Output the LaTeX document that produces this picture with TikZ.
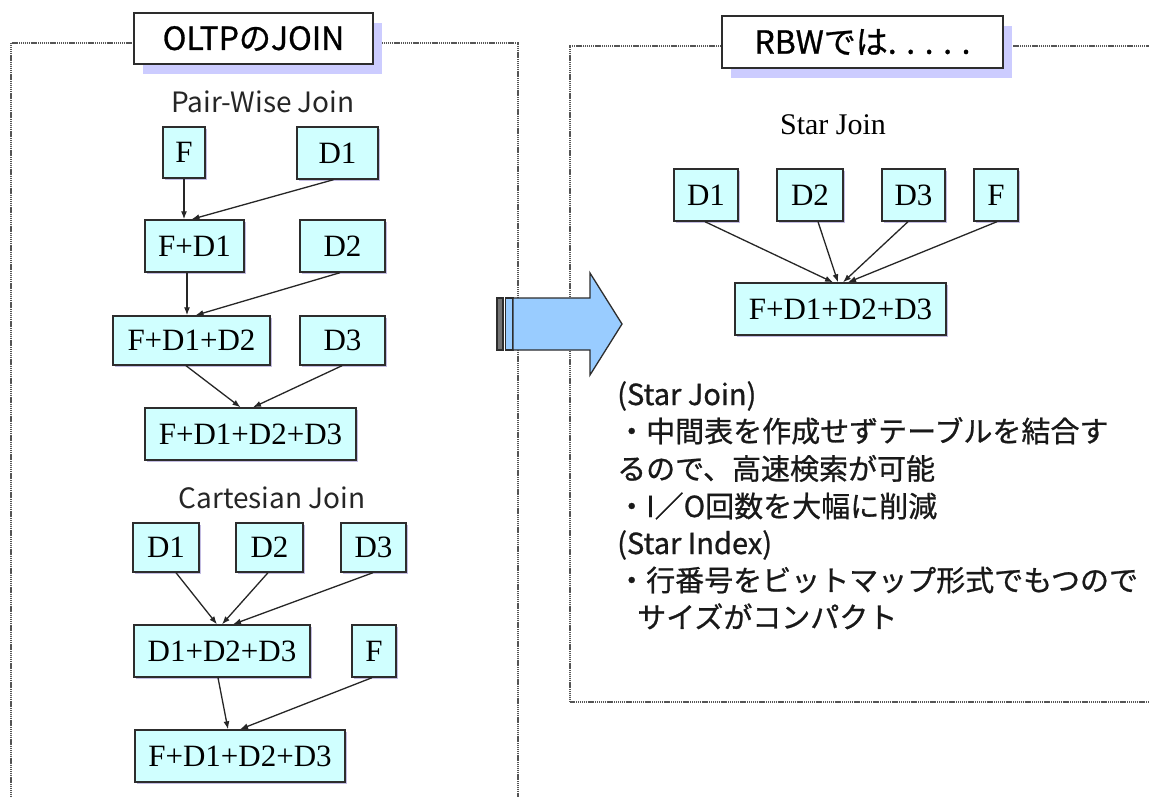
\documentclass[tikz,border=0pt]{standalone}
\usepackage{fontspec}
\setmainfont{Liberation Serif}
\newfontfamily\jp{Noto Sans CJK JP}
\newfontfamily\jpb[FakeBold=0.8]{Noto Sans CJK JP}
\usetikzlibrary{arrows.meta,shadows}
\definecolor{boxfill}{RGB}{208,255,255}
\definecolor{arrowfill}{RGB}{153,204,255}
\definecolor{tshadow}{RGB}{204,204,255}
\definecolor{frameline}{RGB}{85,85,85}
\definecolor{boxline}{RGB}{45,45,45}
\definecolor{bshadow}{RGB}{170,160,215}
\begin{document}
\begin{tikzpicture}[x=1pt,y=-1pt,
  bx/.style={draw=boxline, line width=1.4pt, fill=boxfill, inner sep=0pt,
    font=\fontsize{31}{31}\selectfont,
    drop shadow={shadow xshift=2pt, shadow yshift=-2pt, fill=bshadow, opacity=0.7}},
  ttl/.style={draw=boxline, line width=1.8pt, fill=white, inner sep=0pt,
    font=\jpb\fontsize{32}{32}\selectfont,
    drop shadow={shadow xshift=9pt, shadow yshift=-10pt, fill=tshadow, opacity=1}},
  lbl/.style={inner sep=0pt, font=\jp\fontsize{28}{28}\selectfont, text=black!85},
  serlbl/.style={inner sep=0pt, font=\fontsize{30}{30}\selectfont},
  txt/.style={inner sep=0pt, anchor=base west, font=\jpb\fontsize{29}{29}\selectfont, text=black!90},
  frame/.style={draw=frameline, line width=2pt, dash pattern=on 1.2pt off 0.7pt},
  conn/.style={draw=black!85, line width=1.3pt, -{Latex[length=8pt,width=6pt]}}]
\useasboundingbox (0,0) rectangle (1149,796);
\fill[white] (0,0) rectangle (1149,796);

% frames
\draw[frame] (11,810) -- (11,43) -- (518,43) -- (518,810);
\draw[frame] (1160,46) -- (570,46) -- (570,702) -- (1160,702);

% titles
\node[ttl, minimum width=239, minimum height=51] (t1) at (253.5,38.5) {OLTPのJOIN};
\node[ttl, minimum width=281, minimum height=52] (t2) at (862.5,42) {RBWでは. . . . .};

% pair-wise join
\node[lbl] (lpw) at (263,102) {Pair-Wise Join};
\node[bx, minimum width=42, minimum height=51] (pF) at (184,152.5) {F};
\node[bx, minimum width=81, minimum height=52] (pD1) at (337.5,153) {D1};
\node[bx, minimum width=99, minimum height=52] (pFD1) at (194.5,246) {F+D1};
\node[bx, minimum width=85, minimum height=52] (pD2) at (342.5,246) {D2};
\node[bx, minimum width=157, minimum height=49] (pFD12) at (191.5,340.5) {F+D1+D2};
\node[bx, minimum width=85, minimum height=49] (pD3) at (342.5,340.5) {D3};
\node[bx, minimum width=211, minimum height=52] (pAll) at (250.5,434) {F+D1+D2+D3};

\draw[conn] (pF.south) -- ([xshift=-10.5pt]pFD1.north);
\draw[conn] ([xshift=-4pt]pD1.south) -- ([xshift=-3pt]pFD1.north);
\draw[conn] ([xshift=-7.5pt]pFD1.south) -- ([xshift=-4.5pt]pFD12.north);
\draw[conn] ([xshift=-2.5pt]pD2.south) -- ([xshift=4pt]pFD12.north);
\draw[conn] ([xshift=-5.5pt]pFD12.south) -- ([xshift=-10pt]pAll.north);
\draw[conn] ([xshift=-0.5pt]pD3.south) -- ([xshift=2.5pt]pAll.north);

% cartesian join
\node[lbl] (lcj) at (272,498) {Cartesian Join};
\node[bx, minimum width=66, minimum height=49] (cD1) at (166,547.5) {D1};
\node[bx, minimum width=67, minimum height=49] (cD2) at (269.5,547.5) {D2};
\node[bx, minimum width=65, minimum height=49] (cD3) at (373.5,547.5) {D3};
\node[bx, minimum width=176, minimum height=52] (cD123) at (222,651) {D1+D2+D3};
\node[bx, minimum width=44, minimum height=52] (cF) at (374,651) {F};
\node[bx, minimum width=210, minimum height=52] (cAll) at (240,756) {F+D1+D2+D3};

\draw[conn] ([xshift=10pt]cD1.south) -- ([xshift=-5pt]cD123.north);
\draw[conn] ([xshift=-1.5pt]cD2.south) -- ([xshift=0pt]cD123.north);
\draw[conn] ([xshift=-0.5pt]cD3.south) -- ([xshift=11pt]cD123.north);
\draw[conn] ([xshift=-4pt]cD123.south) -- ([xshift=-12pt]cAll.north);
\draw[conn] ([xshift=-2pt]cF.south) -- ([xshift=0pt]cAll.north);

% big arrow
\filldraw[draw=boxline, line width=1.3pt, fill=black!55] (497,298) rectangle (503,350);
\filldraw[draw=boxline, line width=1.3pt, fill=arrowfill] (505.5,298) rectangle (513,350);
\filldraw[draw=boxline, line width=1.3pt, fill=arrowfill]
  (513,298) -- (590,298) -- (590,273) -- (622,324) -- (590,375) -- (590,350) -- (513,350) -- cycle;

% star join
\node[serlbl] (lsj) at (833,125) {Star Join};
\node[bx, minimum width=64, minimum height=52] (rD1) at (706,195) {D1};
\node[bx, minimum width=66, minimum height=52] (rD2) at (810,195) {D2};
\node[bx, minimum width=63, minimum height=52] (rD3) at (913.5,195) {D3};
\node[bx, minimum width=44, minimum height=52] (rF) at (996,195) {F};
\node[bx, minimum width=211, minimum height=52] (rAll) at (840.5,309) {F+D1+D2+D3};

\draw[conn] ([xshift=-1pt]rD1.south) -- ([xshift=-7.5pt]rAll.north);
\draw[conn] ([xshift=8pt]rD2.south) -- ([xshift=-2.5pt]rAll.north);
\draw[conn] ([xshift=-5.5pt]rD3.south) -- ([xshift=2.5pt]rAll.north);
\draw[conn] ([xshift=1pt]rF.south) -- ([xshift=7.5pt]rAll.north);

% description text
\node[txt] (d1) at (617,405) {(Star Join)};
\node[txt] (d2) at (617,442) {・中間表を作成せずテーブルを結合す};
\node[txt] (d3) at (617,479.5) {るので、高速検索が可能};
\node[txt] (d4) at (617,517) {・I／O回数を大幅に削減};
\node[txt] (d5) at (617,554) {(Star Index)};
\node[txt] (d6) at (617,591) {・行番号をビットマップ形式でもつので};
\node[txt] (d7) at (637,628) {サイズがコンパクト};
\end{tikzpicture}
\end{document}
